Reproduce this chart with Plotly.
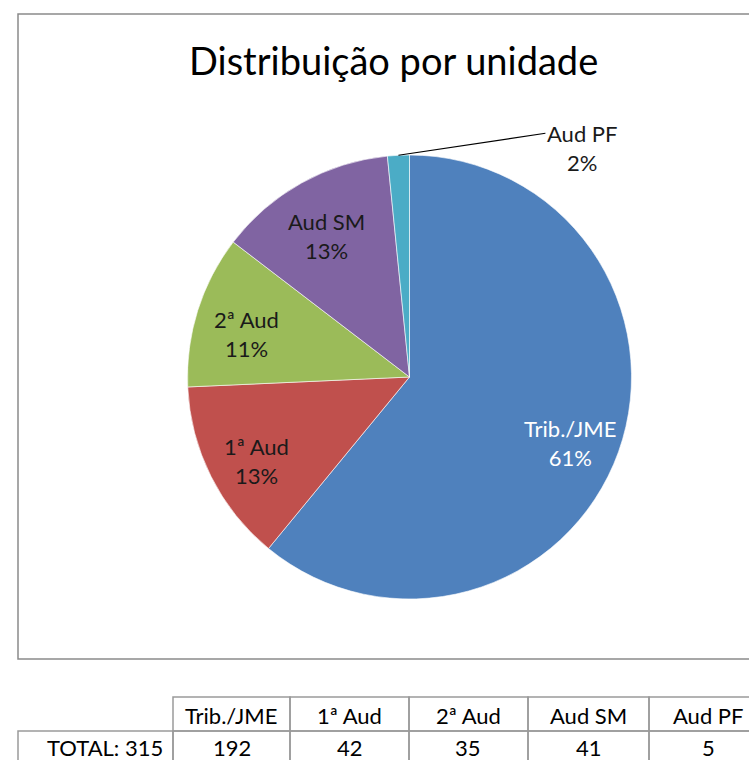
import math
import plotly.graph_objects as go

# ---- data ----
categories = ["Trib./JME", "1ª Aud", "2ª Aud", "Aud SM", "Aud PF"]
values = [192, 42, 35, 41, 5]
colors = ["#4F81BD", "#C0504D", "#9BBB59", "#8064A2", "#4BACC6"]
title_text = "Distribuição por unidade"
total_label = "TOTAL"

W, H = 749, 760
FONT = "Lato"
FS = 22

def px(x):
    return x / W

def py(y):
    return 1 - y / H

# pie geometry (pixels)
CX, CY, R = 409.5, 377.0, 222.0

fig = go.Figure()
fig.add_trace(go.Pie(
    labels=categories,
    values=values,
    sort=False,
    direction="clockwise",
    rotation=0,
    marker=dict(colors=colors, line=dict(color="rgba(255,255,255,0.6)", width=1)),
    textinfo="none",
    hoverinfo="label+value+percent",
    showlegend=False,
    domain=dict(x=[px(CX - R), px(CX + R)], y=[py(CY + R), py(CY - R)]),
))

total = sum(values)
annotations = []
shapes = []

def ann(x, y, text, **kw):
    d = dict(x=px(x), y=py(y), xref="paper", yref="paper", text=text,
             showarrow=False, xanchor="center", yanchor="middle", align="center",
             font=dict(family=FONT, size=FS, color="black"))
    d.update(kw)
    annotations.append(d)

# slice labels computed from data
cum = 0
for i, (cat, v) in enumerate(zip(categories, values)):
    frac = v / total
    mid = (cum + frac / 2) * 2 * math.pi
    cum += frac
    pct = f"{round(frac * 100)}%"
    txt = f"{cat}<br>{pct}"
    if frac >= 0.05:
        k = 0.77
        lx = CX + k * R * math.sin(mid)
        ly = CY - k * R * math.cos(mid) + 8
        ann(lx, ly, txt, font=dict(family=FONT, size=FS,
                                   color="white" if i == 0 else "#1a1a1a"))
    else:
        ex = CX + R * math.sin(mid)
        ey = CY - R * math.cos(mid)
        tx, ty = ex + 184, ey - 7
        ann(tx, ty, txt, font=dict(family=FONT, size=FS, color="#1a1a1a"))
        shapes.append(dict(type="line", xref="paper", yref="paper",
                           x0=px(ex), y0=py(ey), x1=px(tx - 37), y1=py(ty - 15),
                           line=dict(color="black", width=1.2)))

# title
ann(393, 60, title_text, font=dict(family=FONT, size=38, color="black"))

# chart border
shapes.append(dict(type="rect", xref="paper", yref="paper",
                   x0=px(18), x1=px(770), y0=py(659), y1=py(14),
                   line=dict(color="#8a8a8a", width=1.5)))

# table below
LINE = dict(color="#9a9a9a", width=1.5)
col_x = [173, 290, 409, 528, 649, 768]
row_y = [697, 731, 765]
for j, cat in enumerate(categories):
    x0, x1 = col_x[j], col_x[j + 1]
    shapes.append(dict(type="rect", xref="paper", yref="paper",
                       x0=px(x0), x1=px(x1), y0=py(row_y[1]), y1=py(row_y[0]),
                       line=LINE))
    ann((x0 + x1) / 2, (row_y[0] + row_y[1]) / 2 + 1, cat)
    shapes.append(dict(type="rect", xref="paper", yref="paper",
                       x0=px(x0), x1=px(x1), y0=py(row_y[2]), y1=py(row_y[1]),
                       line=LINE))
    ann((x0 + x1) / 2, (row_y[1] + row_y[2]) / 2 - 1, str(values[j]))
# total cell
shapes.append(dict(type="rect", xref="paper", yref="paper",
                   x0=px(18), x1=px(col_x[0]), y0=py(row_y[2]), y1=py(row_y[1]),
                   line=LINE))
ann(165, (row_y[1] + row_y[2]) / 2 - 1, f"{total_label}: {total}", xanchor="right")

fig.update_layout(
    width=W, height=H,
    margin=dict(l=0, r=0, t=0, b=0),
    paper_bgcolor="white",
    plot_bgcolor="white",
    annotations=annotations,
    shapes=shapes,
)

fig.write_html("out.html", config={"displayModeBar": False},
               post_script="document.body.style.margin='0px';")
